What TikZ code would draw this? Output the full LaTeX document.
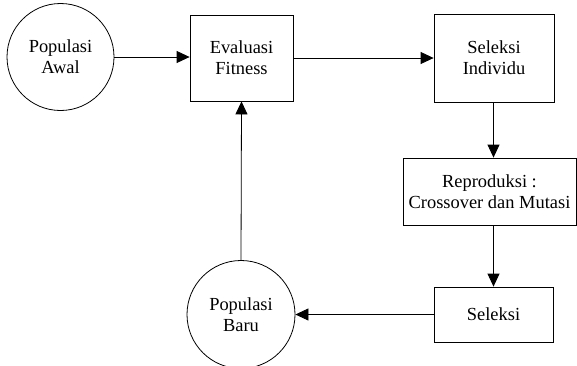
\documentclass[tikz,border=0pt]{standalone}
\usepackage{fontspec}
\newfontfamily\timesfont{Liberation Serif}
\usetikzlibrary{arrows.meta}

\begin{document}
\begin{tikzpicture}[x=1bp,y=-1bp,
	font=\timesfont\fontsize{18.5}{21}\selectfont,
	box/.style={draw, line width=0.8bp, align=center, inner sep=0pt},
	popul/.style={draw, circle, line width=0.8bp, align=center, inner sep=0pt},
	flow/.style={line width=0.8bp, -{Triangle[length=13bp,width=12bp]}}]

	\useasboundingbox (0,0) rectangle (577,365);

	% populasi awal
	\node [popul, minimum size=107bp] (awal) at (60.5,57) {Populasi\\Awal};

	% evaluasi fitness
	\node [box, minimum width=103bp, minimum height=86bp] (eval) at (241.5,58) {Evaluasi\\Fitness};

	% seleksi individu
	\node [box, minimum width=120bp, minimum height=88bp] (selind) at (494,58) {Seleksi\\Individu};

	% reproduksi
	\node [box, minimum width=173bp, minimum height=67bp] (repro) at (489.5,191.5) {Reproduksi :\\Crossover dan Mutasi};

	% seleksi
	\node [box, minimum width=119bp, minimum height=55bp] (seleksi) at (493.5,314.5) {Seleksi};

	% populasi baru
	\node [popul, minimum size=108bp] (baru) at (241,314.5) {Populasi\\Baru};

	% alur
	\draw [flow] (awal.east) -- (awal.east -| eval.west);
	\draw [flow] (eval.east) -- (eval.east -| selind.west);
	\draw [flow] (selind.south -| 493.5,0) -- (repro.north -| 493.5,0);
	\draw [flow] (repro.south -| 493.5,0) -- (seleksi.north -| 493.5,0);
	\draw [flow] (seleksi.west) -- (baru.east);
	\draw [flow] (baru.north) -- (eval.south);

\end{tikzpicture}
\end{document}
